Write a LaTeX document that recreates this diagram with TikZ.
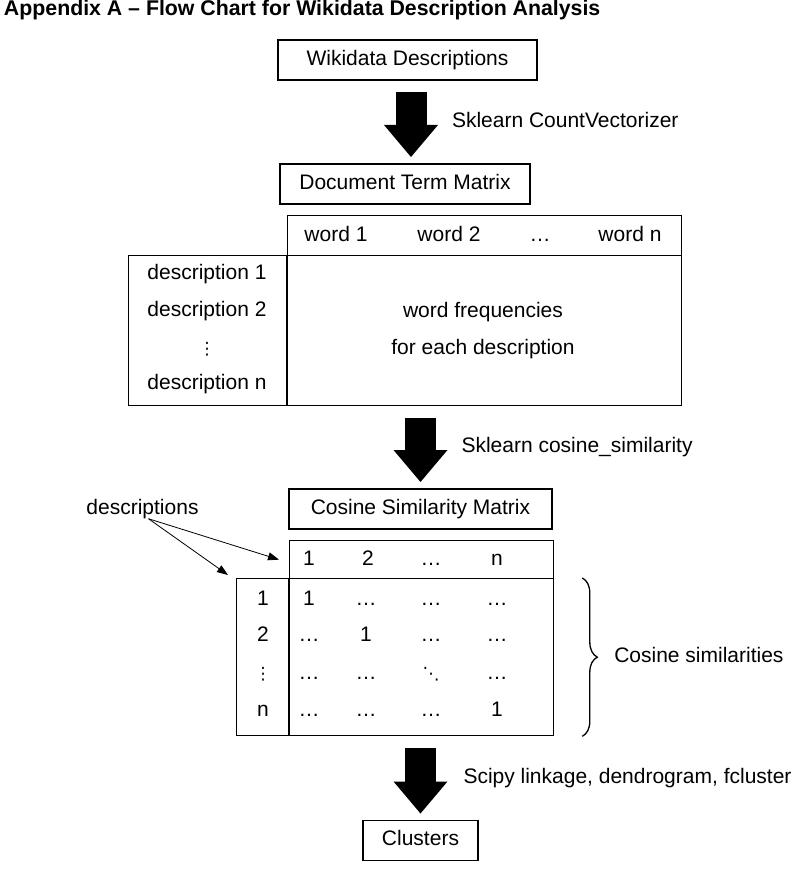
\documentclass[tikz,border=0pt]{standalone}
\usepackage{fontspec}
\setmainfont{Liberation Sans}
\newfontfamily\dejavu{DejaVu Sans}
\usetikzlibrary{positioning,arrows.meta,decorations.pathreplacing}

\newcommand{\vdts}{{\dejavu\fontsize{17}{20}\selectfont ⋮}}
\newcommand{\ddts}{{\dejavu\fontsize{17}{20}\selectfont ⋱}}

\tikzset{
  txt/.style={font=\fontsize{21}{25}\selectfont, inner sep=0pt, outer sep=0pt, text height=15pt, text depth=4.5pt},
  box/.style={draw, line width=1.3pt, txt, minimum height=40pt},
  tbl/.style={draw, line width=1.3pt, inner sep=0pt},
  bigarrow/.style={line width=31pt, -{Triangle[length=32pt,width=54pt,line width=0pt]}, shorten <=12pt, shorten >=7pt},
  thinarrow/.style={line width=0.8pt, -{Triangle[length=11pt,width=8pt]}},
  arrlabel/.style={txt, midway, anchor=west, xshift=41pt},
}

\begin{document}
\begin{tikzpicture}[x=1pt,y=-1pt]
  \useasboundingbox (0,0) rectangle (805,869);

  \node[txt, anchor=west, font=\bfseries\fontsize{21.3}{25}\selectfont] (title) at (4,10.5)
    {Appendix A – Flow Chart for Wikidata Description Analysis};

  \node[box, minimum width=259pt] (wiki) at (407.5,60) {Wikidata Descriptions};
  \node[box, minimum width=250pt] (dtm) at (405,184) {Document Term Matrix};
  \draw[bigarrow] ([xshift=3.5pt]wiki.south) -- ([xshift=3.5pt]wiki.south |- dtm.north)
    node[arrlabel] (countvec) {Sklearn CountVectorizer};

  % document term matrix
  \node[tbl, anchor=north west, minimum width=394pt, minimum height=40pt] (dtmhead) at (287,215) {};
  \node[tbl, anchor=north west, minimum width=553pt, minimum height=150pt] (dtmbody) at (128,255) {};
  \draw[line width=1.3pt] (dtmhead.south west) -- (dtmhead.south west |- dtmbody.south);
  \foreach \x/\t in {336/word 1, 449/word 2, 540/…, 630/word n}
    \node[txt] at (\x,236) {\t};
  \foreach \y/\t in {274/description 1, 311/description 2, 349/\vdts, 384/description n}
    \node[txt] at (207,\y) {\t};
  \node[txt] (freq) at (483,312) {word frequencies};
  \node[txt] (each) at (483,349) {for each description};

  \node[box, minimum width=263pt] (csm) at (420.5,509) {Cosine Similarity Matrix};
  \draw[bigarrow] (csm.north |- dtmbody.south) -- (csm.north)
    node[arrlabel] (cossimfn) {Sklearn cosine\_similarity};

  % cosine similarity matrix
  \node[tbl, anchor=north west, minimum width=264pt, minimum height=38pt] (csmhead) at (289,540) {};
  \node[tbl, anchor=north west, minimum width=317pt, minimum height=157pt] (csmbody) at (236,578) {};
  \draw[line width=1.3pt] (csmhead.south west) -- (csmhead.south west |- csmbody.south);
  \foreach \x/\t in {309/1, 368/2, 431/…, 497/n}
    \node[txt] at (\x,560) {\t};
  \foreach \y/\r/\a/\b/\c/\d in {600/1/1/…/…/…, 636/2/…/1/…/…,
      674/\vdts/…/…/\ddts/…, 711/n/…/…/…/1} {
    \node[txt] at (263,\y) {\r};
    \node[txt] at (309,\y) {\a};
    \node[txt] at (366,\y) {\b};
    \node[txt] at (431,\y) {\c};
    \node[txt] at (497,\y) {\d};
  }

  \node[txt] (desc) at (142.5,509) {descriptions};
  \draw[thinarrow] ([xshift=6pt]desc.south) -- ([xshift=-10pt]csmhead.west);
  \draw[thinarrow] ([xshift=6pt]desc.south) -- ([shift={(-8pt,3pt)}]csmbody.north west);

  \draw[decorate, decoration={brace, amplitude=15pt}, line width=1.3pt]
    ([xshift=28pt]csmbody.north east) -- ([xshift=28pt]csmbody.south east)
    coordinate[midway, xshift=15pt] (bracetip);
  \node[txt, anchor=west, right=17pt of bracetip] (cossim) {Cosine similarities};

  \node[box, minimum width=115pt] (clus) at (420.5,840.5) {Clusters};
  \draw[bigarrow] (clus.north |- csmbody.south) -- (clus.north)
    node[arrlabel, xshift=2pt] (scipy) {Scipy linkage, dendrogram, fcluster};
\end{tikzpicture}
\end{document}
